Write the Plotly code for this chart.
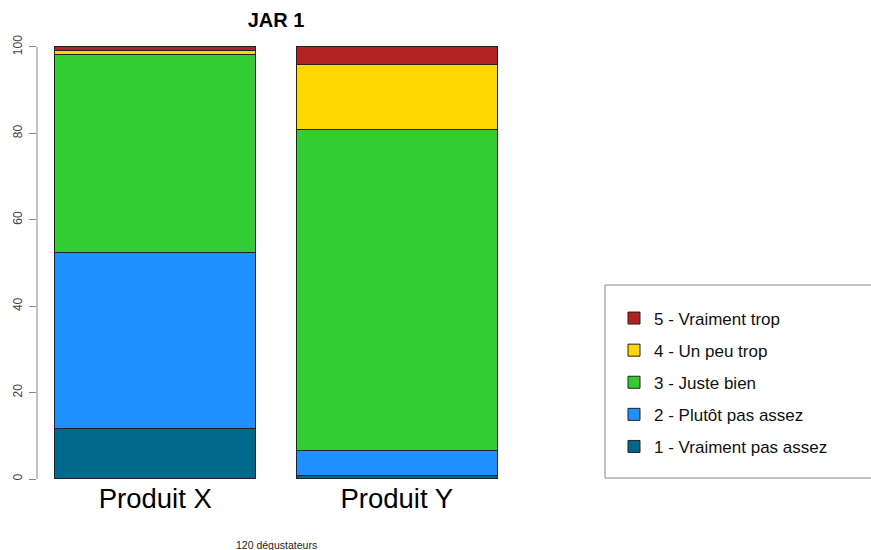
import plotly.graph_objects as go

# JAR scale counts per product (120 tasters)
n_tasters = 120
products = ["Produit X", "Produit Y"]
levels = ["1 - Vraiment pas assez", "2 - Plutôt pas assez", "3 - Juste bien",
          "4 - Un peu trop", "5 - Vraiment trop"]
counts_x = [14, 49, 55, 1, 1]
counts_y = [1, 7, 89, 18, 5]
colors = ["#00688B", "#1E90FF", "#32CD32", "#FFD700", "#B22222"]

W, H = 871, 550
font = "Liberation Sans, Arial, sans-serif"


def px_x(p):
    return p / W


def px_y(p):
    return 1 - p / H


fig = go.Figure()
for i, lev in enumerate(levels):
    pct = [counts_x[i] / n_tasters * 100, counts_y[i] / n_tasters * 100]
    fig.add_trace(go.Bar(
        x=products, y=pct, name=lev, legendgroup=lev, legendrank=len(levels) - i,
        marker=dict(color=colors[i], line=dict(color="#222222", width=1)),
    ))

fig.update_layout(
    width=W, height=H,
    barmode="stack", bargap=1 - 1 / 1.2,
    margin=dict(l=0, r=0, t=0, b=0, autoexpand=False),
    plot_bgcolor="white", paper_bgcolor="white",
    font=dict(family=font, color="#000000"),
    showlegend=True,
    legend=dict(
        x=px_x(614), y=px_y(300.5), xanchor="left", yanchor="top",
        traceorder="grouped", tracegroupgap=7,
        font=dict(size=17, color="#111111"),
        bgcolor="rgba(0,0,0,0)", borderwidth=0,
    ),
    xaxis=dict(
        domain=[px_x(37), px_x(515)], range=[-0.49, 1.49],
        showline=False, showgrid=False, ticks="",
        tickfont=dict(size=27.5, color="#000000"),
    ),
    yaxis=dict(
        domain=[px_y(479), px_y(29.7)], range=[0, 104],
        tickvals=[0, 20, 40, 60, 80, 100], tickangle=-90,
        ticks="outside", ticklen=7, tickcolor="#888888",
        tickfont=dict(size=12, color="#444444"), ticklabelstandoff=2,
        showline=False, showgrid=False, zeroline=False,
    ),
    title=dict(text="<b>JAR 1</b>", x=px_x(276), y=px_y(20),
               xanchor="center", yanchor="middle",
               font=dict(size=20, color="#000000")),
)

# R-style y axis line from 0 to 100
fig.add_shape(type="line", xref="paper", yref="y", x0=px_x(37), x1=px_x(37),
              y0=0, y1=100, line=dict(color="#888888", width=1))

# legend box, open on the right (cut by the window edge)
bx0, bx1, by0, by1 = px_x(605), 1, px_y(478), px_y(285)
box_style = dict(color="#888888", width=1)
fig.add_shape(type="line", xref="paper", yref="paper",
              x0=bx0, x1=bx1, y0=by1, y1=by1, line=box_style)
fig.add_shape(type="line", xref="paper", yref="paper",
              x0=bx0, x1=bx1, y0=by0, y1=by0, line=box_style)
fig.add_shape(type="line", xref="paper", yref="paper",
              x0=bx0, x1=bx0, y0=by0, y1=by1, line=box_style)

fig.add_annotation(text=f"{n_tasters} dégustateurs", xref="paper", yref="paper",
                   x=px_x(276), y=px_y(545), xanchor="center", yanchor="middle",
                   showarrow=False, font=dict(size=10.5, color="#222222"))

# drop the default page margin so the figure sits at the window origin
fig.write_html("out.html", config={"displayModeBar": False},
               post_script="document.body.style.margin = '0';")
